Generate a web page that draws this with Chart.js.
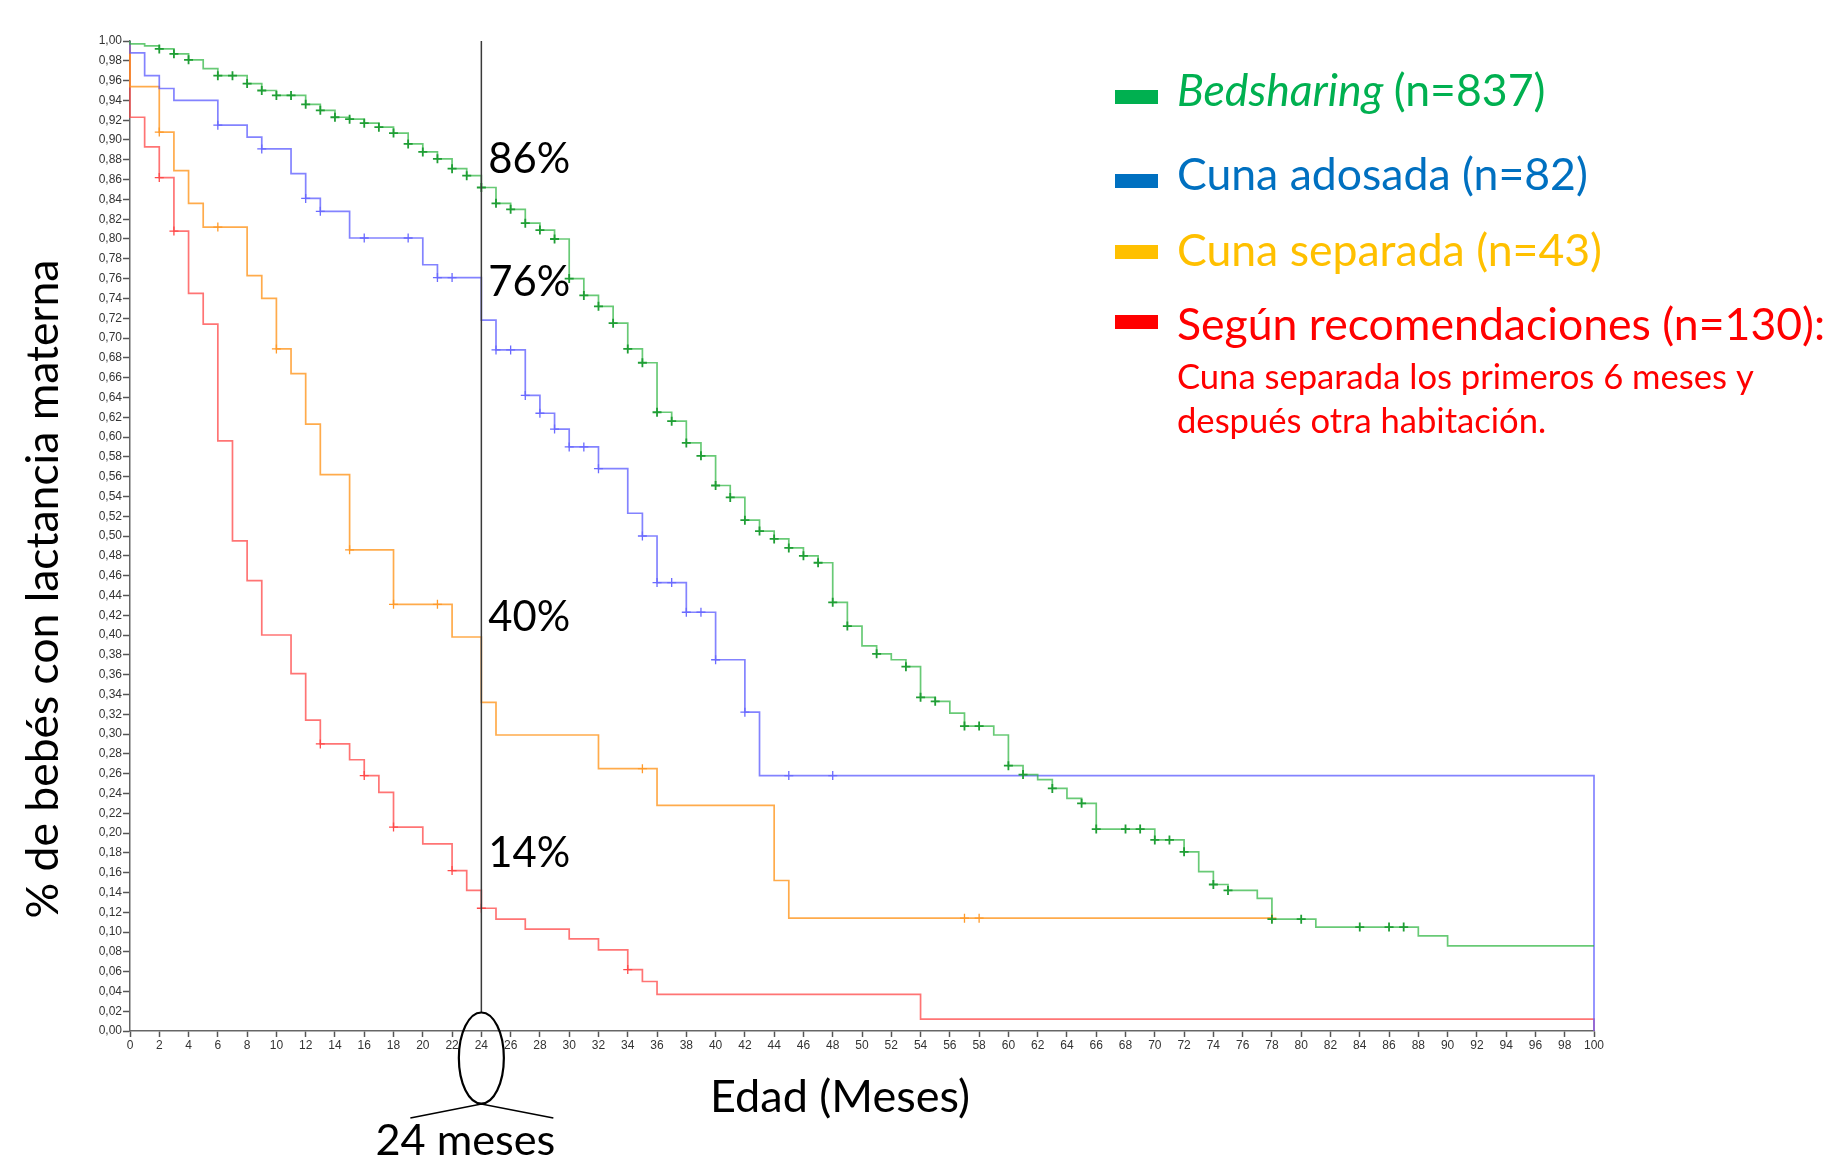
<!DOCTYPE html>
<html>
<head>
<meta charset="utf-8">
<script src="https://cdn.jsdelivr.net/npm/chart.js@4.4.1/dist/chart.umd.min.js"></script>
<style>
  html, body { margin: 0; padding: 0; background: #fff; }
  canvas { display: block; }
</style>
</head>
<body>
<canvas id="kmChart" width="1835" height="1163"></canvas>
<script>
// Kaplan-Meier: % de bebés con lactancia materna segun donde duermen
// each series: month of each drop and survival value after the drop
const bedTimes = [0, 0, 1, 2, 3, 4, 5, 6, 8, 9, 10, 12, 13, 14, 15, 16, 17, 18, 19, 20, 21, 22, 23, 24, 25, 26, 27, 28, 29, 30,
    31, 32, 33, 34, 35, 36, 37, 38, 39, 40, 41, 42, 43, 44, 45, 46, 47, 48, 49, 50, 51, 52, 53, 54, 55, 56, 57, 59, 60,
    61, 62, 63, 64, 65, 66, 70, 72, 73, 74, 75, 77, 78, 81, 88, 90, 100];
const bedSurv = [1, 0.997, 0.995, 0.992, 0.987, 0.981, 0.972, 0.965, 0.957, 0.950, 0.945, 0.936, 0.930, 0.923, 0.921, 0.917,
    0.913, 0.907, 0.896, 0.888, 0.881, 0.871, 0.864, 0.852, 0.836, 0.830, 0.816, 0.809, 0.800, 0.760,
    0.743, 0.732, 0.715, 0.689, 0.675, 0.625, 0.616, 0.594, 0.581, 0.551, 0.539, 0.516, 0.505, 0.497, 0.488, 0.480, 0.473,
    0.433, 0.409, 0.389, 0.381, 0.375, 0.368, 0.337, 0.333, 0.321, 0.308, 0.299, 0.268,
    0.259, 0.254, 0.245, 0.235, 0.230, 0.204, 0.193, 0.181, 0.161, 0.148, 0.142, 0.134, 0.113, 0.105, 0.096, 0.086, 0.086];
const bedCensor = [2, 3, 4, 6, 7, 8, 9, 10, 11, 12, 13, 14, 15, 16, 17, 18, 19, 20, 21, 22, 23, 24, 25, 26, 27, 28, 29, 30,
    31, 32, 33, 34, 35, 36, 37, 38, 39, 40, 41, 42, 43, 44, 45, 46, 47, 48, 49, 51, 53, 54, 55, 57, 58, 60, 61, 63, 65,
    66, 68, 69, 70, 71, 72, 74, 75, 78, 80, 84, 86, 87];

const adosadaTimes = [0, 0, 1, 2, 3, 6, 8, 9, 11, 12, 13, 15, 20, 21, 24, 25, 27, 28, 29, 30, 32, 34, 35, 36, 38, 40, 42, 43, 100, 100];
const adosadaSurv = [1, 0.988, 0.965, 0.952, 0.940, 0.915, 0.903, 0.891, 0.866, 0.841, 0.828, 0.801, 0.774, 0.761, 0.718,
    0.688, 0.642, 0.624, 0.608, 0.590, 0.568, 0.523, 0.500, 0.453, 0.423, 0.375, 0.322, 0.258, 0.258, 0];
const adosadaCensor = [6, 9, 12, 13, 16, 19, 21, 22, 25, 26, 27, 28, 29, 30, 31, 32, 35, 36, 37, 38, 39, 40, 42, 45, 48];

const separadaTimes = [0, 0, 2, 3, 4, 5, 8, 9, 10, 11, 12, 13, 15, 18, 22, 24, 25, 32, 36, 44, 45, 78];
const separadaSurv = [1, 0.954, 0.908, 0.869, 0.836, 0.812, 0.763, 0.740, 0.689, 0.664, 0.613, 0.562, 0.486, 0.431, 0.398,
    0.332, 0.299, 0.265, 0.228, 0.152, 0.114, 0.114];
const separadaCensor = [2, 6, 10, 15, 18, 21, 35, 57, 58, 78];

const recoTimes = [0, 0, 1, 2, 3, 4, 5, 6, 7, 8, 9, 11, 12, 13, 15, 16, 17, 18, 20, 22, 23, 24, 25, 27, 30, 32, 34, 35, 36, 54, 100, 100];
const recoSurv = [1, 0.923, 0.893, 0.862, 0.808, 0.745, 0.714, 0.596, 0.495, 0.455, 0.400, 0.361, 0.314, 0.290, 0.274, 0.258,
    0.241, 0.206, 0.189, 0.162, 0.142, 0.124, 0.113, 0.103, 0.093, 0.082, 0.062, 0.050, 0.037, 0.012, 0.012, 0];
const recoCensor = [2, 3, 13, 16, 18, 22, 24, 34];

const legendNames = ['Bedsharing', 'Cuna adosada', 'Cuna separada', 'Según recomendaciones'];
const legendCounts = ['(n=837)', '(n=82)', '(n=43)', '(n=130):'];
const legendNote = ['Cuna separada los primeros 6 meses y', 'después otra habitación.'];
const pctLabels = ['86%', '76%', '40%', '14%'];
const yTitle = '% de bebés con lactancia materna';
const xTitle = 'Edad (Meses)';
const markMonth = 24;
const markText = '24 meses';

const lineColors = ['rgba(40,180,60,0.7)', 'rgba(90,90,255,0.75)', 'rgba(255,150,30,0.8)', 'rgba(255,70,70,0.75)'];
const censorColors = ['#1f9e35', '#6a6aff', '#ff9a2a', '#ff4a4a'];
const legendColors = ['#00b050', '#0070c0', '#ffc000', '#ff0000'];

const series = [
    [bedTimes, bedSurv, bedCensor],
    [adosadaTimes, adosadaSurv, adosadaCensor],
    [separadaTimes, separadaSurv, separadaCensor],
    [recoTimes, recoSurv, recoCensor]
];

function survAt(times, surv, t) {
    let v = surv[0];
    for (let i = 0; i < times.length; i++) {
        if (times[i] <= t) v = surv[i];
    }
    return v;
}

const datasets = [];
series.forEach(([times, surv], i) => {
    datasets.push({
        data: times.map((t, k) => ({x: t, y: surv[k]})),
        stepped: true,
        borderColor: lineColors[i],
        borderWidth: 1.7,
        pointRadius: 0,
        fill: false,
        clip: false,
        order: 10 + i
    });
});
series.forEach(([times, surv, cens], i) => {
    datasets.push({
        data: cens.map(t => ({x: t, y: survAt(times, surv, t)})),
        showLine: false,
        pointStyle: 'cross',
        pointRadius: 4.5,
        pointBorderWidth: i === 0 ? 1.8 : 1.3,
        pointBorderColor: censorColors[i],
        clip: false,
        order: i
    });
});

function fitSize(ctx, text, family, style, width) {
    ctx.font = style + ' 100px ' + family;
    return 100 * width / ctx.measureText(text).width;
}

const overlay = {
    id: 'overlay',
    afterDatasetsDraw(chart) {
        const ctx = chart.ctx;
        const x = chart.scales.x, y = chart.scales.y;
        const xm = x.getPixelForValue(markMonth);
        const base = y.getPixelForValue(0);
        const fam = 'Lato, "Open Sans", sans-serif';
        ctx.save();

        // vertical marker at 24 months
        ctx.strokeStyle = '#3a3a3a';
        ctx.lineWidth = 1.5;
        ctx.beginPath();
        ctx.moveTo(xm, y.getPixelForValue(1));
        ctx.lineTo(xm, base - 18);
        ctx.stroke();

        ctx.strokeStyle = '#000';
        ctx.lineWidth = 2.2;
        ctx.beginPath();
        ctx.ellipse(xm, base + 27, 22.5, 45.5, 0, 0, Math.PI * 2);
        ctx.stroke();
        ctx.lineWidth = 1.6;
        ctx.beginPath();
        ctx.moveTo(xm - 71, base + 87);
        ctx.lineTo(xm, base + 73);
        ctx.lineTo(xm + 72, base + 87);
        ctx.stroke();

        ctx.fillStyle = '#000';
        ctx.textBaseline = 'middle';
        ctx.textAlign = 'center';
        let s = fitSize(ctx, markText, fam, '', 180);
        ctx.font = s + 'px ' + fam;
        ctx.fillText(markText, xm - 16, base + 110);

        // percent labels
        s = fitSize(ctx, pctLabels[0], fam, '', 82);
        ctx.font = s + 'px ' + fam;
        ctx.textAlign = 'left';
        const pctY = [160, 283, 618, 854];
        pctLabels.forEach((t, i) => ctx.fillText(t, xm + 7, pctY[i]));

        // axis titles
        ctx.textAlign = 'center';
        s = fitSize(ctx, xTitle, fam, '', 260);
        ctx.font = s + 'px ' + fam;
        ctx.fillText(xTitle, 840, base + 66);

        s = fitSize(ctx, yTitle, fam, '', 659);
        ctx.font = s + 'px ' + fam;
        ctx.save();
        ctx.translate(44, 589);
        ctx.rotate(-Math.PI / 2);
        ctx.fillText(yTitle, 0, 0);
        ctx.restore();

        // legend
        ctx.textAlign = 'left';
        const ls = fitSize(ctx, legendNames[1] + ' ' + legendCounts[1], fam, '', 411);
        const rowY = [92, 176, 252, 326];
        const boxY = [97, 181, 252, 322];
        legendNames.forEach((name, i) => {
            ctx.fillStyle = legendColors[i];
            ctx.fillRect(1115, boxY[i] - 7, 43, 14);
            let tx = 1177;
            if (i === 0) {
                ctx.font = 'italic ' + ls + 'px ' + fam;
                ctx.fillText(name, tx, rowY[i]);
                tx += ctx.measureText(name + ' ').width;
                ctx.font = ls + 'px ' + fam;
                ctx.fillText(legendCounts[i], tx, rowY[i]);
            } else {
                ctx.font = ls + 'px ' + fam;
                ctx.fillText(name + ' ' + legendCounts[i], tx, rowY[i]);
            }
        });
        ctx.fillStyle = legendColors[3];
        s = fitSize(ctx, legendNote[0], fam, '', 577);
        ctx.font = s + 'px ' + fam;
        ctx.fillText(legendNote[0], 1177, 378);
        ctx.fillText(legendNote[1], 1177, 422);
        ctx.restore();
    }
};

const tickFont = {family: '"Liberation Sans", Arial, sans-serif', size: 12};

new Chart(document.getElementById('kmChart'), {
    type: 'line',
    data: {datasets},
    options: {
        responsive: false,
        animation: false,
        layout: {padding: {left: 0, top: 41, right: 241, bottom: 0}},
        plugins: {legend: {display: false}, tooltip: {enabled: false}},
        scales: {
            x: {
                type: 'linear',
                min: 0,
                max: 100,
                afterFit: scale => { scale.height = 132; },
                ticks: {
                    stepSize: 2,
                    autoSkip: false,
                    maxRotation: 0,
                    padding: 1,
                    color: '#333',
                    font: tickFont
                },
                grid: {drawOnChartArea: false, tickLength: 6, tickColor: '#555', tickWidth: 1.5},
                border: {color: '#666', width: 1.5}
            },
            y: {
                type: 'linear',
                min: 0,
                max: 1,
                afterFit: scale => { scale.width = 130; },
                ticks: {
                    stepSize: 0.02,
                    autoSkip: false,
                    padding: 1,
                    color: '#333',
                    font: tickFont,
                    callback: v => Number(v).toFixed(2).replace('.', ',')
                },
                grid: {drawOnChartArea: false, tickLength: 7, tickColor: '#555', tickWidth: 1.5},
                border: {color: '#666', width: 1.5}
            }
        }
    },
    plugins: [overlay]
});
</script>
</body>
</html>
